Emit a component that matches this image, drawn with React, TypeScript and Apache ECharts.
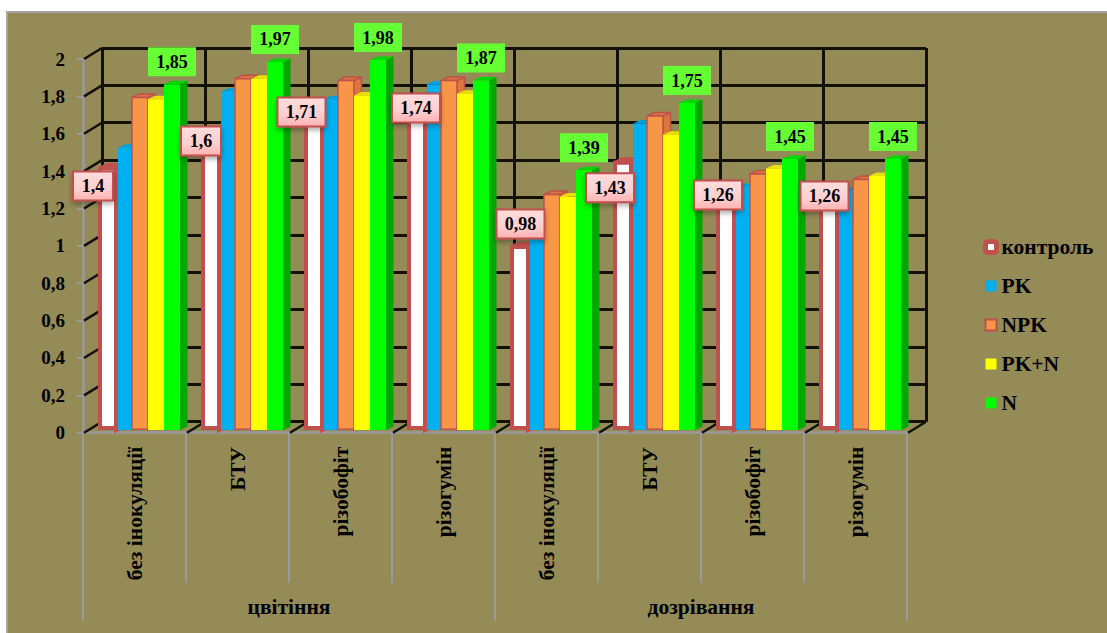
import React, { useEffect, useRef } from "react";
import * as echarts from "echarts";

const categories = ["без інокуляції", "БТУ", "різобофіт", "різогумін", "без інокуляції", "БТУ", "різобофіт", "різогумін"];
const stages = ["цвітіння", "дозрівання"];
const valueTicks = [0, 0.2, 0.4, 0.6, 0.8, 1, 1.2, 1.4, 1.6, 1.8, 2];

const control = [1.4, 1.6, 1.71, 1.74, 0.98, 1.43, 1.26, 1.26];
const pk = [1.51, 1.81, 1.77, 1.85, 1.03, 1.64, 1.3, 1.28];
const npk = [1.78, 1.88, 1.87, 1.87, 1.26, 1.68, 1.37, 1.34];
const pkN = [1.77, 1.88, 1.79, 1.8, 1.25, 1.58, 1.4, 1.36];
const n = [1.85, 1.97, 1.98, 1.87, 1.39, 1.75, 1.45, 1.45];

// Hand-placed callout shift of each "контроль" label, relative to the top of its bar
const controlLabelShift = [
  [-15, 17.5], [-10, 10], [-12.5, 1.4], [-1, 3], [0.5, -23], [-13, 25], [-8, 0.5], [-4.5, 1.5],
];

const FONT = "'Liberation Serif', 'Times New Roman', serif";
const GRID = { left: 83, top: 59, width: 824, height: 373.7 };
const DEPTH = { x: 19, y: -11 };
const BAR_DEPTH = { x: 7.5, y: -3.5 };
const BASE_LIFT = -2.7; // bars stand slightly behind the front edge of the floor
const SLOT = 16;
const BAR_SHIFT = 5.5;
const AXIS_GREY = "#9a9a9e";
const WALL_LINE = "#111108";

type BarStyle = {
  front: string; side: string; top: string; stroke?: string; strokeWidth?: number; slot: number; leftInset?: number;
};

const renderBar = (s: BarStyle) => (_: any, api: any) => {
  const [cx, yTop] = api.coord([api.value(0), api.value(1)]);
  const [, yBase] = api.coord([api.value(0), 0]);
  const x0 = cx + BAR_SHIFT + s.slot * SLOT - SLOT / 2 + (s.leftInset ?? 0);
  const x1 = cx + BAR_SHIFT + s.slot * SLOT + SLOT / 2;
  const y0 = yTop + BASE_LIFT;
  const y1 = yBase + BASE_LIFT;
  const edge = { stroke: s.stroke ?? "none", lineWidth: s.strokeWidth ?? 0 };
  const inset = (s.strokeWidth ?? 0) / 2;
  return {
    type: "group",
    children: [
      {
        type: "polygon",
        shape: { points: [[x1, y0], [x1 + BAR_DEPTH.x, y0 + BAR_DEPTH.y], [x1 + BAR_DEPTH.x, y1 + BAR_DEPTH.y], [x1, y1]] },
        style: { fill: s.side, ...edge },
      },
      {
        type: "polygon",
        shape: { points: [[x0, y0], [x0 + BAR_DEPTH.x, y0 + BAR_DEPTH.y], [x1 + BAR_DEPTH.x, y0 + BAR_DEPTH.y], [x1, y0]] },
        style: { fill: s.top, ...edge },
      },
      {
        type: "rect",
        shape: { x: x0, y: y0, width: x1 - x0, height: y1 - y0 - inset },
        style: { fill: s.front, ...edge },
      },
    ],
  };
};

const barSeries = (name: string, values: number[], style: BarStyle) => ({
  type: "custom",
  name,
  xAxisIndex: 0,
  yAxisIndex: 0,
  z: 3,
  silent: true,
  clip: false,
  encode: { x: 0, y: 1 },
  data: values.map((v, i) => [i, v]),
  itemStyle: { color: style.front, borderColor: style.stroke, borderWidth: style.strokeWidth ?? 0 },
  renderItem: renderBar(style),
});

const labelText = (v: number) => String(v).replace(".", ",");

const renderCallout = (kind: "control" | "n") => (params: any, api: any) => {
  const value = api.value(1);
  const [cx, yTop] = api.coord([api.value(0), value]);
  const text = labelText(value);
  const w = text.length > 3 ? 48 : 40;
  const h = 29;
  let mx: number;
  let my: number;
  if (kind === "n") {
    mx = cx + BAR_SHIFT + 2 * SLOT;
    my = yTop + BASE_LIFT - 22.5;
  } else {
    const shift = controlLabelShift[params.dataIndex];
    mx = cx + BAR_SHIFT - 2 * SLOT + shift[0];
    my = yTop + BASE_LIFT + shift[1];
  }
  const boxStyle =
    kind === "n"
      ? { fill: "#66ff33" }
      : {
          fill: new echarts.graphic.LinearGradient(0, 0, 0, 1, [
            { offset: 0, color: "#ffdcdc" },
            { offset: 0.6, color: "#ffcfcf" },
            { offset: 1, color: "#ffb0b0" },
          ]),
          stroke: "#c0504d",
          lineWidth: 2,
          shadowBlur: 5,
          shadowOffsetY: 3,
          shadowColor: "rgba(0,0,0,0.3)",
        };
  return {
    type: "group",
    children: [
      { type: "rect", shape: { x: mx - w / 2, y: my - h / 2, width: w, height: h }, style: boxStyle },
      {
        type: "text",
        x: mx,
        y: my,
        style: {
          text,
          fill: "#000",
          font: `bold 18px ${FONT}`,
          align: "center",
          verticalAlign: "middle",
        },
      },
    ],
  };
};

const calloutSeries = (values: number[], kind: "control" | "n") => ({
  type: "custom",
  name: `${kind}-labels`,
  xAxisIndex: 0,
  yAxisIndex: 0,
  z: 6,
  silent: true,
  clip: false,
  encode: { x: 0, y: 1 },
  data: values.map((v, i) => [i, v]),
  renderItem: renderCallout(kind),
});

// Side wall and floor lines joining the front axes to the back wall
const wallSeries = [
  {
    type: "custom",
    name: "side-wall",
    xAxisIndex: 0,
    yAxisIndex: 0,
    z: 1,
    silent: true,
    clip: false,
    data: valueTicks.map((v) => [0, v]),
    encode: { x: 0, y: 1 },
    renderItem: (_: any, api: any) => {
      const [cx, y] = api.coord([0, api.value(1)]);
      const x = cx - api.size([1, 0])[0] / 2;
      return {
        type: "line",
        shape: { x1: x + 1, y1: y, x2: x + DEPTH.x, y2: y + DEPTH.y },
        style: { stroke: WALL_LINE, lineWidth: 2.5 },
      };
    },
  },
  {
    type: "custom",
    name: "floor",
    xAxisIndex: 0,
    yAxisIndex: 0,
    z: 1,
    silent: true,
    clip: false,
    data: categories.map((_, i) => [i, 0]),
    encode: { x: 0, y: 1 },
    renderItem: (_: any, api: any) => {
      const [cx, y] = api.coord([api.value(0), 0]);
      const x = cx + api.size([1, 0])[0] / 2;
      return {
        type: "line",
        shape: { x1: x + 1, y1: y, x2: x + DEPTH.x, y2: y + DEPTH.y },
        style: { stroke: WALL_LINE, lineWidth: 2.5 },
      };
    },
  },
];

const legendNames = ["контроль", "PK", "NPK", "PK+N", "N"];

export default function App() {
  const ref = useRef<HTMLDivElement>(null);

  useEffect(() => {
    document.body.style.margin = "0";
    const chart = echarts.init(ref.current!, undefined, { renderer: "svg" });
    const axisFont = { fontFamily: FONT, fontWeight: "bold" as const, fontSize: 21.5, color: "#000" };
    chart.setOption({
      animation: false,
      backgroundColor: "transparent",
      grid: [
        { ...GRID },
        { left: GRID.left + DEPTH.x, top: GRID.top + DEPTH.y, width: GRID.width, height: GRID.height },
      ],
      xAxis: [
        {
          type: "category",
          gridIndex: 0,
          data: categories,
          axisLine: { lineStyle: { color: AXIS_GREY, width: 2.5 } },
          axisTick: { show: true, length: 150, lineStyle: { color: AXIS_GREY, width: 2 } },
          axisLabel: { ...axisFont, rotate: 90, interval: 0, margin: 14 },
          splitLine: { show: false },
        },
        {
          type: "category",
          gridIndex: 0,
          position: "bottom",
          data: stages,
          axisLine: { show: false },
          axisTick: { show: true, length: 188, lineStyle: { color: AXIS_GREY, width: 2 } },
          axisLabel: { ...axisFont, interval: 0, margin: 163 },
          splitLine: { show: false },
        },
        {
          type: "category",
          gridIndex: 1,
          data: categories,
          axisLine: { show: false },
          axisTick: { show: false },
          axisLabel: { show: false },
          splitLine: { show: true, interval: 0, lineStyle: { color: WALL_LINE, width: 3 } },
        },
      ],
      yAxis: [
        {
          type: "value",
          gridIndex: 0,
          min: 0,
          max: 2,
          interval: 0.2,
          axisLine: { show: true, lineStyle: { color: AXIS_GREY, width: 2.5 } },
          axisTick: { show: true, length: 6, lineStyle: { color: AXIS_GREY, width: 2 } },
          axisLabel: { ...axisFont, fontSize: 19, margin: 18, formatter: (v: number) => labelText(Number(v.toFixed(1))) },
          splitLine: { show: false },
        },
        {
          type: "value",
          gridIndex: 1,
          min: 0,
          max: 2,
          interval: 0.2,
          axisLine: { show: false },
          axisTick: { show: false },
          axisLabel: { show: false },
          splitLine: { show: true, lineStyle: { color: WALL_LINE, width: 3 } },
        },
      ],
      legend: {
        show: true,
        orient: "vertical",
        left: 983,
        top: 236,
        padding: 0,
        itemWidth: 11,
        itemHeight: 11,
        itemGap: 17,
        selectedMode: false,
        textStyle: { ...axisFont },
        data: [
          { name: legendNames[0], icon: "roundRect", itemStyle: { color: "#ffffff", borderColor: "#c0504d", borderWidth: 5 } },
          { name: legendNames[1], icon: "rect", itemStyle: { color: "#00b0f0", borderWidth: 0 } },
          { name: legendNames[2], icon: "rect", itemStyle: { color: "#f79646", borderColor: "#c0504d", borderWidth: 2 } },
          { name: legendNames[3], icon: "rect", itemStyle: { color: "#ffff00", borderWidth: 0 } },
          { name: legendNames[4], icon: "rect", itemStyle: { color: "#00ff00", borderWidth: 0 } },
        ],
      },
      series: [
        ...wallSeries,
        barSeries("контроль", control, { front: "#ffffff", side: "#c0504d", top: "#c9605a", stroke: "#c0504d", strokeWidth: 4, slot: -2 }),
        barSeries("PK", pk, { front: "#00b0f0", side: "#0090c8", top: "#00a0e0", slot: -1, leftInset: 2 }),
        barSeries("NPK", npk, { front: "#f79646", side: "#d9773c", top: "#d9773c", stroke: "#c0504d", strokeWidth: 1.5, slot: 0 }),
        barSeries("PK+N", pkN, { front: "#ffff00", side: "#d8d800", top: "#e8e000", slot: 1 }),
        barSeries("N", n, { front: "#00ff00", side: "#00a800", top: "#00d800", slot: 2 }),
        calloutSeries(control, "control"),
        calloutSeries(n, "n"),
      ],
    });
    return () => chart.dispose();
  }, []);

  return (
    <div style={{ position: "absolute", left: 0, top: 0, width: 1107, height: 633, background: "#fff", overflow: "hidden" }}>
      <div
        style={{
          position: "absolute",
          left: 6,
          top: 11,
          width: 1101,
          height: 622,
          boxSizing: "border-box",
          background: "#948b56",
          borderLeft: "2px solid #a5a5a5",
          borderTop: "2px solid #a5a5a5",
        }}
      />
      <div ref={ref} style={{ position: "absolute", left: 0, top: 0, width: 1107, height: 633 }} />
    </div>
  );
}
